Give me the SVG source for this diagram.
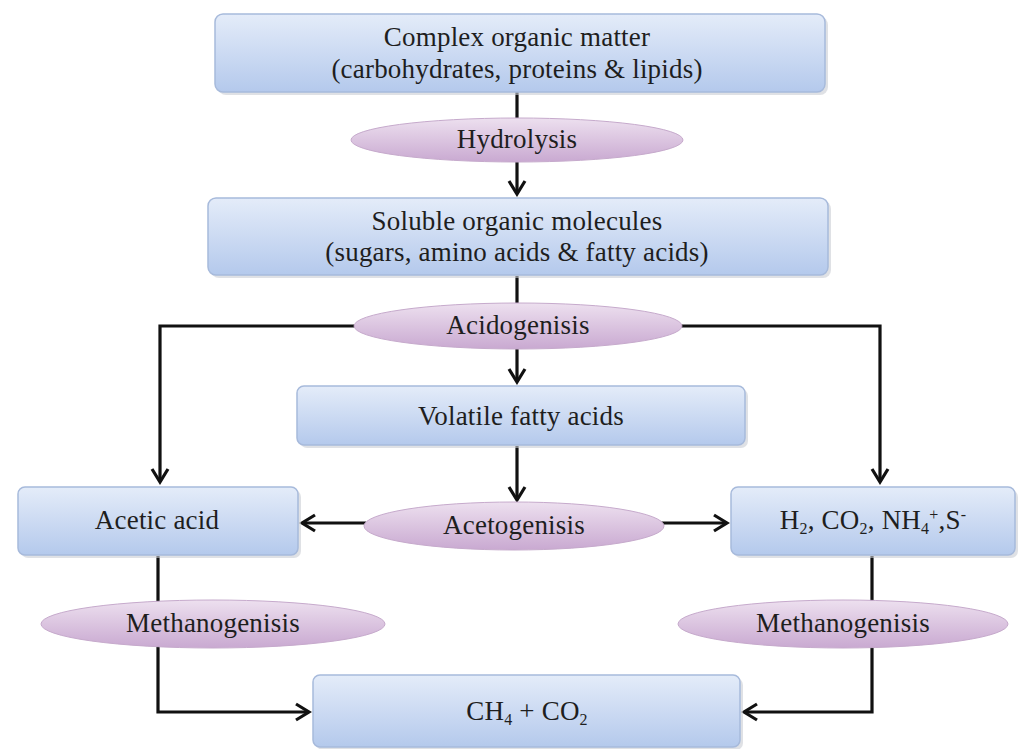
<svg xmlns="http://www.w3.org/2000/svg" width="1028" height="749" viewBox="0 0 1028 749">
<defs>
<linearGradient id="gBox" x1="0" y1="0" x2="0" y2="1">
<stop offset="0" stop-color="#e4ecf9"/>
<stop offset="1" stop-color="#b4c9ec"/>
</linearGradient>
<linearGradient id="gEll" x1="0" y1="0" x2="0" y2="1">
<stop offset="0" stop-color="#ede0ef"/>
<stop offset="1" stop-color="#c9a9d1"/>
</linearGradient>
<marker id="arr" viewBox="0 0 20 20" refX="17" refY="10" markerWidth="20" markerHeight="20" markerUnits="userSpaceOnUse" orient="auto">
<path d="M4,2 L17,10 L4,18" fill="none" stroke="#111" stroke-width="3.2" stroke-linejoin="miter"/>
</marker>
</defs>
<style>
.box{fill:url(#gBox);stroke:#a7badb;stroke-width:1.5}
.ell{fill:url(#gEll);stroke:#c6aacc;stroke-width:1}
.t{font-size:27px;fill:#1e1e1e;text-anchor:middle;letter-spacing:0.2px}
.c{fill:none;stroke:#111;stroke-width:3.2}
.sh{fill:#c9cdd4;opacity:0.6}
</style>
<rect width="1028" height="749" fill="#ffffff"/>

<g id="connectors">
<path class="c" d="M517,92 L517,119"/>
<path class="c" d="M517,161 L517,194" marker-end="url(#arr)"/>
<path class="c" d="M517,276 L517,304"/>
<path class="c" d="M356,326 L160,326 L160,482" marker-end="url(#arr)"/>
<path class="c" d="M681,326 L880,326 L880,482" marker-end="url(#arr)"/>
<path class="c" d="M517,349 L517,382" marker-end="url(#arr)"/>
<path class="c" d="M517,446 L517,500" marker-end="url(#arr)"/>
<path class="c" d="M366,523 L302,523" marker-end="url(#arr)"/>
<path class="c" d="M661,523 L727,523" marker-end="url(#arr)"/>
<path class="c" d="M158,556 L158,712 L309,712" marker-end="url(#arr)"/>
<path class="c" d="M872,556 L872,712 L744,712" marker-end="url(#arr)"/>
</g>

<g font-family="Liberation Serif, Times New Roman, serif">
<g id="n-complex">
<rect class="sh" x="218" y="17" width="610" height="78" rx="8"/>
<rect class="box" x="215" y="14" width="610" height="78" rx="8"/>
<text class="t" x="517" y="46">Complex organic matter</text>
<text class="t" x="517" y="78">(carbohydrates, proteins &amp; lipids)</text>
</g>

<g id="n-hydrolysis">
<ellipse class="ell" cx="517" cy="140" rx="166" ry="22"/>
<text class="t" x="517" y="148">Hydrolysis</text>
</g>

<g id="n-soluble">
<rect class="sh" x="211" y="201" width="620" height="77" rx="8"/>
<rect class="box" x="208" y="198" width="620" height="77" rx="8"/>
<text class="t" x="517" y="230">Soluble organic molecules</text>
<text class="t" x="517" y="261">(sugars, amino acids &amp; fatty acids)</text>
</g>

<g id="n-acidogenisis">
<ellipse class="ell" cx="518" cy="326" rx="164" ry="23"/>
<text class="t" x="518" y="334">Acidogenisis</text>
</g>

<g id="n-volatile">
<rect class="sh" x="300" y="389" width="448" height="59" rx="7"/>
<rect class="box" x="297" y="386" width="448" height="59" rx="7"/>
<text class="t" x="521" y="425">Volatile fatty acids</text>
</g>

<g id="n-acetogenisis">
<ellipse class="ell" cx="514" cy="526" rx="150" ry="24"/>
<text class="t" x="514" y="534">Acetogenisis</text>
</g>

<g id="n-acetic">
<rect class="sh" x="21" y="490" width="280" height="68" rx="7"/>
<rect class="box" x="18" y="487" width="280" height="68" rx="7"/>
<text class="t" x="157" y="529">Acetic acid</text>
</g>

<g id="n-gases">
<rect class="sh" x="734" y="490" width="284" height="68" rx="7"/>
<rect class="box" x="731" y="487" width="284" height="68" rx="7"/>
<text class="t" x="873" y="529">H<tspan font-size="16" dy="5">2</tspan><tspan dy="-5">, CO</tspan><tspan font-size="16" dy="5">2</tspan><tspan dy="-5">, NH</tspan><tspan font-size="16" dy="5">4</tspan><tspan font-size="16" dy="-14">+</tspan><tspan dy="9">,S</tspan><tspan font-size="16" dy="-9">-</tspan></text>
</g>

<g id="n-meth-left">
<ellipse class="ell" cx="213" cy="624" rx="172" ry="24"/>
<text class="t" x="213" y="632">Methanogenisis</text>
</g>

<g id="n-meth-right">
<ellipse class="ell" cx="843" cy="624" rx="165" ry="24"/>
<text class="t" x="843" y="632">Methanogenisis</text>
</g>

<g id="n-ch4">
<rect class="sh" x="316" y="678" width="427" height="72" rx="7"/>
<rect class="box" x="313" y="675" width="427" height="72" rx="7"/>
<text class="t" x="527" y="720">CH<tspan font-size="16" dy="5">4</tspan><tspan dy="-5"> + CO</tspan><tspan font-size="16" dy="5">2</tspan></text>
</g>
</g>
</svg>
